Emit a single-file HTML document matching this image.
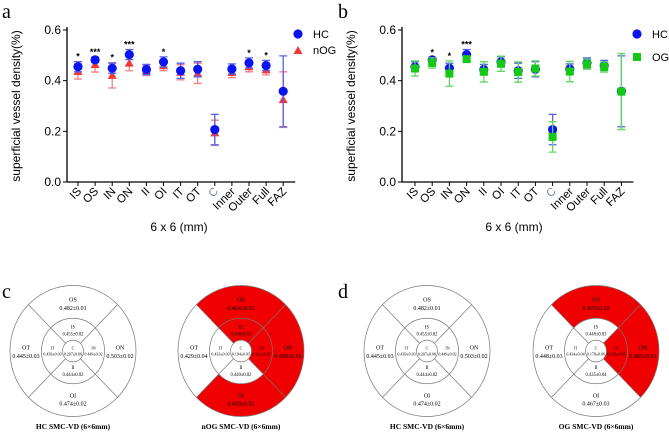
<!DOCTYPE html>
<html><head><meta charset="utf-8"><style>
html,body{margin:0;padding:0;background:#fff;}
svg{display:block;font-family:"Liberation Sans",Arial,sans-serif;}
.ser{font-family:"Liberation Serif","Times New Roman",serif;}
</style></head><body>
<svg id="fig" width="669" height="433" viewBox="0 0 669 433">
<g class="ser" font-size="20">
<text x="2" y="18">a</text>
<text x="338" y="18">b</text>
<text x="2" y="298">c</text>
<text x="338" y="298">d</text>
</g>
<g id="chartA"></g>
<g id="chartB"></g>
<g id="circles" class="ser"></g>
</svg>
<script>
const categories=["IS","OS","IN","ON","II","OI","IT","OT","C","Inner","Outer","Full","FAZ"];
const hcValues=[0.455,0.482,0.449,0.503,0.444,0.474,0.439,0.445,0.207,0.446,0.470,0.460,0.358];
const hcErrors=[0.02,0.01,0.02,0.02,0.02,0.02,0.03,0.03,0.06,0.02,0.02,0.02,0.14];
const nogValues=[0.436,0.464,0.421,0.469,0.440,0.459,0.433,0.429,0.194,0.432,0.455,0.443,0.325];
const nogErrors=[0.03,0.03,0.05,0.03,0.02,0.02,0.03,0.04,0.05,0.02,0.02,0.02,0.11];
const ogValues=[0.448,0.470,0.428,0.485,0.435,0.467,0.434,0.448,0.178,0.436,0.465,0.454,0.357];
const ogErrors=[0.03,0.02,0.05,0.01,0.04,0.03,0.04,0.03,0.06,0.04,0.02,0.02,0.15];
const starsA=["*","***","*","***","","*","","","","","*","*",""];
const starsB=["","*","*","***","","","","","","","","",""];
const yTicks=[0,0.2,0.4,0.6];
const yTickLabels=["0.0","0.2","0.4","0.6"];
const NS="http://www.w3.org/2000/svg";
function mk(p,t,a,txt){const e=document.createElementNS(NS,t);for(const k in a)e.setAttribute(k,a[k]);if(txt!==undefined)e.textContent=txt;p.appendChild(e);return e;}

function chart(g,ax,x0,spacing,second,secVals,secErrs,secColor,secLight,secShape,secName,stars,legX){
  const yTop=30,yBot=182;
  const ys=v=>yBot-(v/0.6)*(yBot-yTop);
  const xs=i=>x0+i*spacing;
  let e=mk(g,'line',{x1:ax,y1:yTop-3,x2:ax,y2:yBot,stroke:'#000','stroke-width':1.3});
  
  e=mk(g,'line',{x1:ax,y1:yBot,x2:xs(12)+12,y2:yBot,stroke:'#000','stroke-width':1.3});
  
  yTicks.forEach((t,i)=>{mk(g,'line',{x1:ax-4,y1:ys(t),x2:ax,y2:ys(t),stroke:'#000'});
    e=mk(g,'text',{x:ax-6,y:ys(t)+4,'text-anchor':'end','font-size':12},yTickLabels[i]);
    });
  e=mk(g,'text',{x:0,y:0,'text-anchor':'middle','font-size':12,transform:`translate(${ax-47},${(yTop+yBot)/2}) rotate(-90)`},'superficial vessel density(%)');
  
  e=mk(g,'text',{x:ax+112,y:231,'text-anchor':'middle','font-size':12},'6 x 6 (mm)');
  
  categories.forEach((c,i)=>{mk(g,'line',{x1:xs(i),y1:yBot,x2:xs(i),y2:yBot+4,stroke:'#000'});
    e=mk(g,'text',{x:0,y:0,'text-anchor':'end','font-size':11.5,fill:c==='C'?'#7a86a8':'#000',transform:`translate(${xs(i)+4},${yBot+10}) rotate(-45)`},c);
    });
  function series(vals,errs,col,light,shape,name){
    vals.forEach((v,i)=>{const x=xs(i);
      const b=mk(g,'path',{d:`M${x-4},${ys(v+errs[i])}H${x+4}M${x},${ys(v+errs[i])}V${ys(v-errs[i])}M${x-4},${ys(v-errs[i])}H${x+4}`,stroke:light,'stroke-width':1.3,fill:'none'});
      
      let m;
      if(shape==='circle')m=mk(g,'circle',{cx:x,cy:ys(v),r:4.6,fill:col});
      else if(shape==='tri')m=mk(g,'path',{d:`M${x},${ys(v)-4.5}L${x+4.5},${ys(v)+3.5}L${x-4.5},${ys(v)+3.5}Z`,fill:col});
      else m=mk(g,'rect',{x:x-4,y:ys(v)-4,width:8,height:8,fill:col});
      
    });
  }
  if(second==='under'){series(secVals,secErrs,secColor,secLight,secShape,secName);series(hcValues,hcErrors,'#0a14f0','#5560ee','circle','hc');}
  else{series(hcValues,hcErrors,'#0a14f0','#5560ee','circle','hc');series(secVals,secErrs,secColor,secLight,secShape,secName);}
  stars.forEach((s,i)=>{if(!s)return;const top=Math.max(hcValues[i]+hcErrors[i],secVals[i]+secErrs[i]);
    e=mk(g,'text',{x:xs(i),y:ys(top)-2,'text-anchor':'middle','font-size':9,'font-weight':'bold'},s);
    });
  e=mk(g,'circle',{cx:legX,cy:34,r:4.6,fill:'#0a14f0'});
  e=mk(g,'text',{x:legX+15,y:38,'font-size':11},'HC');
  if(secShape==='tri')e=mk(g,'path',{d:`M${legX},${46}L${legX+4.5},${54}L${legX-4.5},${54}Z`,fill:secColor});
  else e=mk(g,'rect',{x:legX-4,y:53,width:8,height:8,fill:secColor});
  
  e=mk(g,'text',{x:legX+15,y:secShape==='tri'?54:61,'font-size':11},secName==='nog'?'nOG':'OG');
  
}
chart(document.getElementById('chartA'),67,78,17.1,'under',nogValues,nogErrors,'#f03838','#f08080','tri','nog',starsA,298);
chart(document.getElementById('chartB'),402,415,17.2,'over',ogValues,ogErrors,'#14c814','#60d860','sq','og',starsB,637);

const mapLabels=["OS","ON","OI","OT","IS","IN","II","IT","C"];
const hcMap=["0.482±0.01","0.503±0.02","0.474±0.02","0.445±0.03","0.455±0.02","0.449±0.02","0.444±0.02","0.439±0.03","0.207±0.06"];
const nogMap=["0.464±0.03","0.469±0.03","0.459±0.02","0.429±0.04","0.438±0.03","0.421±0.05","0.440±0.02","0.433±0.03","0.194±0.05"];
const ogMap=["0.470±0.02","0.485±0.01","0.467±0.03","0.448±0.03","0.448±0.03","0.428±0.05","0.435±0.04","0.434±0.04","0.178±0.06"];
const nogRed=[1,1,1,0,1,1,0,0,0];
const ogRed=[1,1,0,0,0,1,0,0,0];
const cg=document.getElementById('circles');
function sector(g,r1,r2,a1,a2,fill){
  const p=a=>[Math.cos(a*Math.PI/180),-Math.sin(a*Math.PI/180)];
  const [c1,s1]=p(a1),[c2,s2]=p(a2);
  const d=`M${r2*c1},${r2*s1}A${r2},${r2} 0 0 0 ${r2*c2},${r2*s2}L${r1*c2},${r1*s2}A${r1},${r1} 0 0 1 ${r1*c1},${r1*s1}Z`;
  return mk(g,'path',{d:d,fill:fill,stroke:'none'});
}
function map(cx,cy,vals,red,title,name){
  const outer=mk(cg,'g',{});
  
  const g=mk(outer,'g',{transform:`translate(${cx},${cy}) scale(1,1.04)`});
  const R=63,M=31.5,I=10.5;
  const angles=[[45,135],[-45,45],[225,315],[135,225]];
  angles.forEach((a,i)=>{if(red[i]){const s=sector(g,M,R,a[0],a[1],'#f00000');}});
  angles.forEach((a,i)=>{if(red[i+4]){const s=sector(g,I,M,a[0],a[1],'#f00000');}});
  [R,M,I].forEach((r,k)=>mk(g,'circle',{cx:0,cy:0,r:r,fill:k===2?'#fff':'none',stroke:'#777','stroke-width':0.7}));
  const q=Math.SQRT1_2;
  [[1,1],[1,-1],[-1,1],[-1,-1]].forEach(([sx,sy])=>{
    mk(g,'line',{x1:sx*M*q,y1:sy*M*q,x2:sx*R*q,y2:sy*R*q,stroke:'#777','stroke-width':0.7});
    mk(g,'line',{x1:sx*I*q,y1:sy*I*q,x2:sx*M*q,y2:sy*M*q,stroke:'#777','stroke-width':0.7});});
  const pos=[[0,-46,6],[47,0,6],[0,46,6],[-47,0,6],[0,-20,4.6],[20.5,0,4],[0,19,4.6],[-20.5,0,4],[0,0,4]];
  pos.forEach((p,i)=>{const fs=p[2];
    let t=mk(g,'text',{x:p[0],y:p[1]-1.5,'text-anchor':'middle','font-size':fs},mapLabels[i]);
    
    t=mk(g,'text',{x:p[0],y:p[1]+fs+0.5,'text-anchor':'middle','font-size':fs},vals[i]);
    });
  const t=mk(outer,'text',{x:cx,y:429,'text-anchor':'middle','font-size':7.5,'font-weight':'bold'},title);
  
}
map(73,351,hcMap,[0,0,0,0,0,0,0,0,0],'HC SMC-VD (6×6mm)','hc-map-c');
map(241,351,nogMap,nogRed,'nOG SMC-VD (6×6mm)','nog-map');
map(427,351,hcMap,[0,0,0,0,0,0,0,0,0],'HC SMC-VD (6×6mm)','hc-map-d');
map(596,351,ogMap,ogRed,'OG SMC-VD (6×6mm)','og-map');
</script>
</body></html>
